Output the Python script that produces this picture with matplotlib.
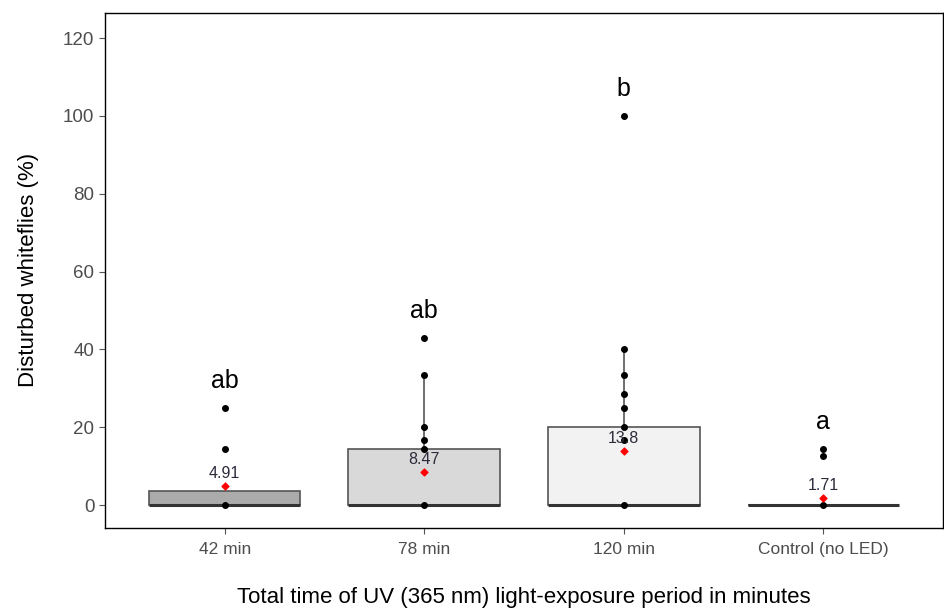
import matplotlib
matplotlib.use("Agg")
import matplotlib.pyplot as plt

plt.rcParams["font.family"] = ["Liberation Sans", "DejaVu Sans"]

categories = ["42 min", "78 min", "120 min", "Control (no LED)"]
pts_42 = [0, 14.29, 25]
pts_78 = [0, 14.29, 16.67, 20, 33.33, 42.86]
pts_120 = [0, 16.67, 20, 25, 28.57, 33.33, 40, 100]
pts_ctrl = [0, 12.5, 14.29]
points = [pts_42, pts_78, pts_120, pts_ctrl]
means = [4.91, 8.47, 13.8, 1.71]
mean_labels = ["4.91", "8.47", "13.8", "1.71"]
q1 = [0, 0, 0, 0]
medians = [0, 0, 0, 0]
q3 = [3.57, 14.29, 20, 0]
whis_lo = [0, 0, 0, 0]
whis_hi = [3.57, 33.33, 40, 0]
letters = ["ab", "ab", "b", "a"]
fills = ["#ABABAB", "#D9D9D9", "#F2F2F2", "#FFFFFF"]

fig = plt.figure(figsize=(9.45, 6.09), dpi=100)
ax = fig.add_axes([0.111, 0.133, 0.887, 0.846])

pos = list(range(1, len(categories) + 1))
stats = []
for i in range(len(categories)):
    stats.append(dict(med=medians[i], q1=q1[i], q3=q3[i], whislo=whis_lo[i],
                      whishi=whis_hi[i], fliers=[], label=categories[i]))
bp = ax.bxp(stats, positions=pos, widths=0.76, patch_artist=True,
            showcaps=False, showfliers=False,
            boxprops=dict(edgecolor="#555555", linewidth=1.2),
            whiskerprops=dict(color="#555555", linewidth=1.2),
            medianprops=dict(color="#333333", linewidth=2.2))
for patch, fc in zip(bp["boxes"], fills):
    patch.set_facecolor(fc)

for i, p in enumerate(pos):
    ax.scatter([p] * len(points[i]), points[i], s=16, color="black", zorder=3)
    ax.scatter([p], [means[i]], marker="D", s=12, color="red", zorder=4)
    ax.text(p, means[i] + 1.3, mean_labels[i], ha="center", va="bottom",
            fontsize=11.5, color="#2b2b3b", zorder=5)
    ax.text(p, max(points[i]) + 7, letters[i], ha="center", va="center",
            fontsize=18, color="black")

ax.set_xlim(0.4, 4.6)
ax.set_ylim(-5.9, 126.5)
ax.set_yticks([0, 20, 40, 60, 80, 100, 120])
ax.set_xticks(pos)
ax.set_xticklabels(categories)
ax.tick_params(axis="both", colors="#555555", labelcolor="#4D4D4D",
               labelsize=12.5, length=4)
ax.tick_params(axis="y", labelsize=13.5)
ax.tick_params(axis="x", pad=6)
for s in ax.spines.values():
    s.set_color("black")
    s.set_linewidth(1.0)
ax.set_ylabel("Disturbed whiteflies (%)", fontsize=16, color="black", labelpad=17)
ax.set_xlabel("Total time of UV (365 nm) light-exposure period in minutes",
              fontsize=16, color="black", labelpad=22)

fig.savefig("out.png", dpi=100)
